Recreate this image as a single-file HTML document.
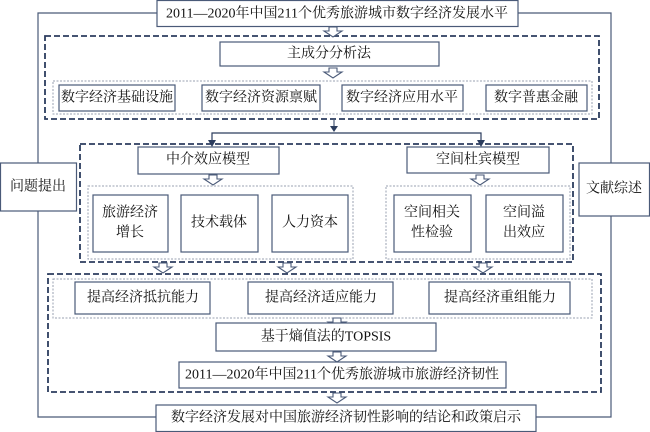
<!DOCTYPE html>
<html><head><meta charset="utf-8"><style>
html,body{margin:0;padding:0;background:#fff;}
svg{display:block;}
text{font-family:"Liberation Serif","Noto Serif CJK SC","Noto Sans CJK SC",serif;font-size:14px;fill:#111;text-anchor:middle;dominant-baseline:central;}
.b{fill:#fff;stroke:#4a5a78;stroke-width:1.2;}
.d{fill:none;stroke:#2c3d5e;stroke-width:1.8;stroke-dasharray:6,3;}
.o{fill:none;stroke:#9aa2b2;stroke-width:1;stroke-dasharray:2,1.5;}
.l{fill:none;stroke:#4a5a78;stroke-width:1.2;}
.h{fill:#fff;stroke:#4a5a78;stroke-width:1.1;}
</style></head><body>
<svg width="650" height="432" viewBox="0 0 650 432" xmlns="http://www.w3.org/2000/svg">
<defs>
<marker id="ar" markerWidth="8" markerHeight="8" refX="4" refY="7" orient="auto" markerUnits="userSpaceOnUse">
<path d="M0,0 L4,8 L8,0 Z" fill="#2c3d5e" transform="rotate(-90 4 4)"/>
</marker>
<g id="ha"><polygon points="-4,0 4,0 4,4 9,4 0,10 -9,4 -4,4" class="h"/></g>
</defs>
<!-- outer lines -->
<polyline class="l" points="157,13 38,13 38,417 156,417"/>
<polyline class="l" points="518,13 611,13 611,417 536,417"/>
<!-- side boxes -->
<rect class="b" x="0.5" y="163" width="76" height="48"/>
<text x="38" y="187">问题提出</text>
<rect class="b" x="579" y="163" width="70.5" height="53"/>
<text x="614" y="189">文献综述</text>
<!-- top box -->
<rect class="b" x="157" y="0.5" width="361" height="26"/>
<text x="337" y="14">2011—2020年中国211个优秀旅游城市数字经济发展水平</text>
<!-- dashed 1 -->
<rect class="d" x="45" y="36" width="554" height="83"/>
<use href="#ha" x="333" y="27"/>
<rect class="b" x="220" y="42" width="219" height="24"/>
<text x="329" y="54">主成分分析法</text>
<use href="#ha" x="333" y="68"/>
<rect class="o" x="53" y="81" width="539" height="33"/>
<rect class="b" x="59" y="85" width="116" height="26"/><text x="117" y="98">数字经济基础设施</text>
<rect class="b" x="202" y="85" width="118" height="26"/><text x="261" y="98">数字经济资源禀赋</text>
<rect class="b" x="342" y="85" width="121" height="26"/><text x="402" y="98">数字经济应用水平</text>
<rect class="b" x="486" y="85" width="101" height="26"/><text x="536" y="98">数字普惠金融</text>
<!-- connector -->
<line class="l" x1="334" y1="119" x2="334" y2="130" stroke="#2c3d5e"/>
<polygon points="330,126 338,126 334,132" fill="#2c3d5e"/>
<polyline class="l" points="212,145 212,133 481,133 481,145" style="stroke:#2c3d5e"/>
<polygon points="208,140 216,140 212,147" fill="#2c3d5e"/>
<polygon points="477,140 485,140 481,147" fill="#2c3d5e"/>
<!-- dashed 2 -->
<rect class="d" x="80" y="144" width="493" height="118"/>
<rect class="b" x="138" y="147" width="141" height="27"/><text x="208" y="160">中介效应模型</text>
<rect class="b" x="407" y="147" width="142" height="26"/><text x="478" y="160">空间杜宾模型</text>
<use href="#ha" x="213" y="175"/>
<use href="#ha" x="480" y="175"/>
<rect class="o" x="88" y="186" width="265" height="73"/>
<rect class="o" x="386" y="186" width="184" height="73"/>
<rect class="b" x="93" y="195" width="75" height="57"/><text x="130" y="213">旅游经济</text><text x="130" y="233">增长</text>
<rect class="b" x="181" y="195" width="77" height="57"/><text x="219" y="223">技术载体</text>
<rect class="b" x="272" y="195" width="76" height="57"/><text x="310" y="223">人力资本</text>
<rect class="b" x="394" y="195" width="77" height="57"/><text x="432" y="213">空间相关</text><text x="432" y="233">性检验</text>
<rect class="b" x="486" y="195" width="77" height="57"/><text x="524" y="213">空间溢</text><text x="524" y="233">出效应</text>
<use href="#ha" x="163" y="263"/>
<use href="#ha" x="287" y="263"/>
<use href="#ha" x="483" y="263"/>
<!-- dashed 3 -->
<rect class="d" x="48" y="274" width="553" height="118"/>
<rect class="o" x="53" y="279" width="539" height="39"/>
<rect class="b" x="75" y="282" width="135" height="32"/><text x="143" y="298">提高经济抵抗能力</text>
<rect class="b" x="248" y="282" width="145" height="32"/><text x="321" y="298">提高经济适应能力</text>
<rect class="b" x="429" y="282" width="141" height="32"/><text x="500" y="298">提高经济重组能力</text>
<use href="#ha" x="337" y="318"/>
<rect class="b" x="216" y="323" width="220" height="28"/><text x="326" y="337">基于熵值法的TOPSIS</text>
<use href="#ha" x="337" y="352"/>
<rect class="b" x="179" y="362" width="327" height="26"/><text x="342" y="375">2011—2020年中国211个优秀旅游城市旅游经济韧性</text>
<use href="#ha" x="337" y="393"/>
<!-- bottom box -->
<rect class="b" x="156" y="405" width="380" height="26.5"/>
<text x="346" y="418">数字经济发展对中国旅游经济韧性影响的结论和政策启示</text>
</svg>
</body></html>
